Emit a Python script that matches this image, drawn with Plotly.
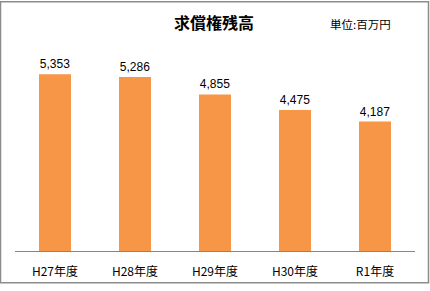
import plotly.graph_objects as go

categories = ["H27年度", "H28年度", "H29年度", "H30年度", "R1年度"]
values = [5353, 5286, 4855, 4475, 4187]
labels = ["5,353", "5,286", "4,855", "4,475", "4,187"]

W, H = 430, 291
ml, mr, mt, mb = 15, 15, 48, 35
pw, ph = W - ml - mr, H - mt - mb

def px2x(px):
    return (px - ml) / pw

def py2y(py):
    return (H - mb - py) / ph

font_cjk = "Noto Sans CJK JP, Liberation Sans, sans-serif"

fig = go.Figure(go.Bar(
    x=categories, y=values, text=labels, textposition="outside",
    marker=dict(color="#F79646", line=dict(width=0)),
    textfont=dict(family="Liberation Sans, sans-serif", size=12, color="#000000"),
    cliponaxis=False, width=0.4,
))

fig.update_layout(
    width=W, height=H,
    margin=dict(l=ml, r=mr, t=mt, b=mb),
    paper_bgcolor="white", plot_bgcolor="white",
    showlegend=False,
    xaxis=dict(showline=True, linecolor="#868686", linewidth=1, ticks="",
               tickfont=dict(family=font_cjk, size=12, color="#000000"),
               ticklabelstandoff=10, showgrid=False),
    yaxis=dict(range=[1000, 6000], visible=False, showgrid=False),
    shapes=[dict(type="rect", xref="paper", yref="paper",
                 x0=px2x(0.5), x1=px2x(428.5), y0=py2y(288.5), y1=py2y(0.5),
                 line=dict(color="#8C8C8C", width=1.5), layer="below")],
    annotations=[
        dict(text="<b>求償権残高</b>", xref="paper", yref="paper",
             x=px2x(214), y=py2y(21), showarrow=False,
             font=dict(family=font_cjk, size=16, color="#000000"),
             xanchor="center", yanchor="middle"),
        dict(text="単位:百万円", xref="paper", yref="paper",
             x=px2x(360), y=py2y(23), showarrow=False,
             font=dict(family=font_cjk, size=11.5, color="#000000"),
             xanchor="center", yanchor="middle"),
    ],
)

fig.write_html("out.html")
